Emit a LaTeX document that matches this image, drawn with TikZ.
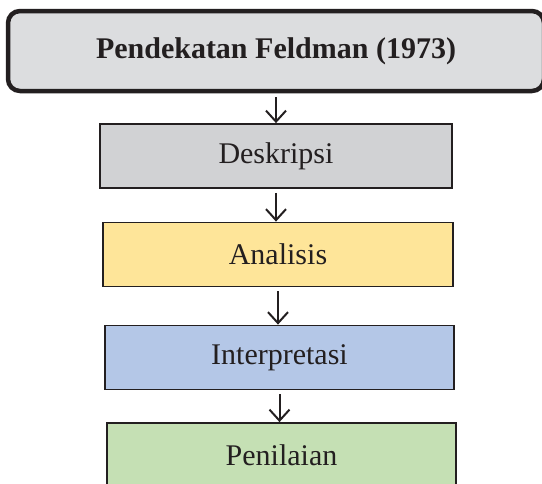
\documentclass[tikz,border=0pt]{standalone}
\usepackage{fontspec}
\setmainfont{Liberation Serif}
\usetikzlibrary{positioning, arrows.meta}
\definecolor{headgray}{RGB}{220,221,223}
\definecolor{stepgray}{RGB}{209,210,212}
\definecolor{stepyellow}{RGB}{254,229,153}
\definecolor{stepblue}{RGB}{180,199,231}
\definecolor{stepgreen}{RGB}{197,224,180}
\definecolor{ink}{RGB}{35,31,32}
\tikzset{every step/.style={draw=ink,line width=1.8pt,text=ink,minimum height=64pt,inner sep=0pt,font=\fontsize{30}{35}\selectfont},
         stepbox/.style={every step,minimum width=350pt},
         headbox/.style={every step,line width=4.5pt,rounded corners=12pt,fill=headgray,minimum width=536pt,minimum height=80pt,font=\fontsize{30}{35}\selectfont\bfseries},
         flow/.style={draw=ink,line width=2pt,-{Straight Barb[length=11pt,width=20pt,line width=2pt]},shorten <=4pt},
        }

\begin{document}
\begin{tikzpicture}[x=1pt,y=-1pt]
        \useasboundingbox (0,0) rectangle (542,483);
        \node[headbox](head)at(276,51){Pendekatan Feldman (1973)};
        \node[stepbox,fill=stepgray,minimum width=352pt](desk)at(276,156){Deskripsi};
        \node[stepbox,fill=stepyellow](anal)at(278,254.5){Analisis};
        \node[stepbox,fill=stepblue,minimum width=349pt](intp)at(279.5,357.5){Interpretasi};
        \node[stepbox,fill=stepgreen,minimum width=349pt](nilai)at(281.5,455){Penilaian};

        \draw[flow](head.south-|desk.north)--(desk.north);
        \draw[flow](desk.south)--(desk.south|-anal.north);
        \draw[flow](anal.south)--(anal.south|-intp.north);
        \draw[flow](intp.south)--(intp.south|-nilai.north);
    \end{tikzpicture}
\end{document}
